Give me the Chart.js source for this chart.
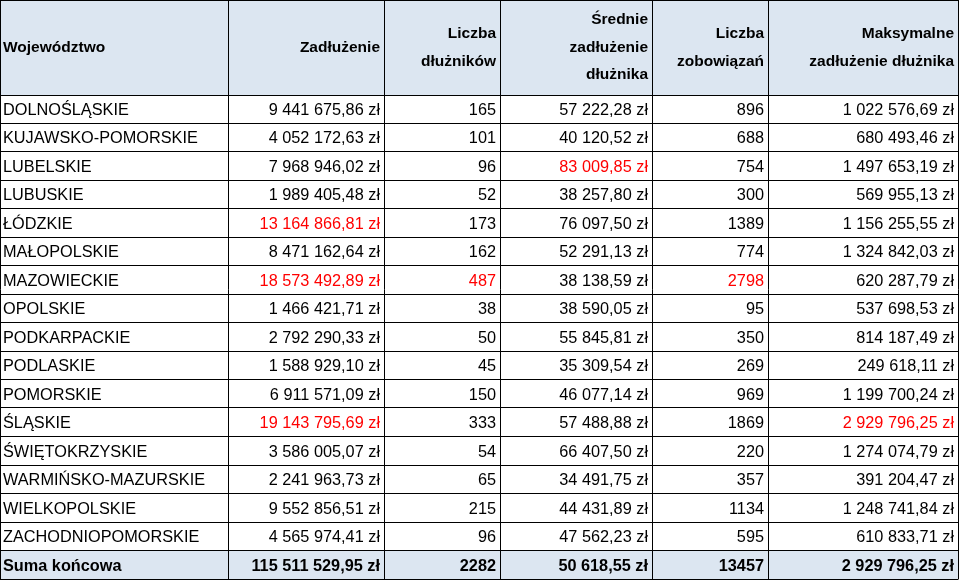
<!DOCTYPE html>
<html><head><meta charset="utf-8">
<script src="https://cdn.jsdelivr.net/npm/chart.js@4/dist/chart.umd.min.js"></script>
<style>html,body{margin:0;padding:0;background:#fff}#w{width:960px;height:582px}</style>
</head><body><div id="w"><canvas id="c"></canvas></div>
<script>
const headers=[["Województwo"],["Zadłużenie"],["Liczba","dłużników"],["Średnie","zadłużenie","dłużnika"],["Liczba","zobowiązań"],["Maksymalne","zadłużenie dłużnika"]];
const regions=["DOLNOŚLĄSKIE","KUJAWSKO-POMORSKIE","LUBELSKIE","LUBUSKIE","ŁÓDZKIE","MAŁOPOLSKIE","MAZOWIECKIE","OPOLSKIE","PODKARPACKIE","PODLASKIE","POMORSKIE","ŚLĄSKIE","ŚWIĘTOKRZYSKIE","WARMIŃSKO-MAZURSKIE","WIELKOPOLSKIE","ZACHODNIOPOMORSKIE"];
const debt=["9 441 675,86 zł","4 052 172,63 zł","7 968 946,02 zł","1 989 405,48 zł","13 164 866,81 zł","8 471 162,64 zł","18 573 492,89 zł","1 466 421,71 zł","2 792 290,33 zł","1 588 929,10 zł","6 911 571,09 zł","19 143 795,69 zł","3 586 005,07 zł","2 241 963,73 zł","9 552 856,51 zł","4 565 974,41 zł"];
const debtors=[165,101,96,52,173,162,487,38,50,45,150,333,54,65,215,96];
const avgDebt=["57 222,28 zł","40 120,52 zł","83 009,85 zł","38 257,80 zł","76 097,50 zł","52 291,13 zł","38 138,59 zł","38 590,05 zł","55 845,81 zł","35 309,54 zł","46 077,14 zł","57 488,88 zł","66 407,50 zł","34 491,75 zł","44 431,89 zł","47 562,23 zł"];
const obligations=[896,688,754,300,1389,774,2798,95,350,269,969,1869,220,357,1134,595];
const maxDebt=["1 022 576,69 zł","680 493,46 zł","1 497 653,19 zł","569 955,13 zł","1 156 255,55 zł","1 324 842,03 zł","620 287,79 zł","537 698,53 zł","814 187,49 zł","249 618,11 zł","1 199 700,24 zł","2 929 796,25 zł","1 274 074,79 zł","391 204,47 zł","1 248 741,84 zł","610 833,71 zł"];
const totals=["Suma końcowa","115 511 529,95 zł","2282","50 618,55 zł","13457","2 929 796,25 zł"];
// highlighted (red) cells: [rowIndex, columnIndex]
const redCells=[[4,1],[6,1],[11,1],[6,2],[2,3],[6,4],[11,5]];

const colEdges=[0,228,384,500,652,768,958];
const headerBottom=95, rowH=28.5;
const tablePlugin={id:'table',afterDraw(ch){
  const c=ch.ctx,X=ch.scales.x,Y=ch.scales.y;
  const px=v=>X.getPixelForValue(v),py=v=>Y.getPixelForValue(v);
  const nRows=regions.length;
  const yEnd=headerBottom+rowH*(nRows+1);
  c.save();
  c.fillStyle='#dce6f1';
  c.fillRect(px(0),py(0),px(958)-px(0),py(headerBottom)-py(0));
  c.fillRect(px(0),py(headerBottom+rowH*nRows),px(958)-px(0),py(yEnd)-py(headerBottom+rowH*nRows));
  c.textBaseline='middle';
  c.font='bold 15.5px "Liberation Sans", Arial';c.fillStyle='#000';
  headers.forEach((h,j)=>{
    const n=h.length, gap=27.5, cy=headerBottom/2;
    h.forEach((t,k)=>{
      const y=cy+(k-(n-1)/2)*gap;
      if(j===0){c.textAlign='left';c.fillText(t,px(colEdges[0]+3),py(y));}
      else{c.textAlign='right';c.fillText(t,px(colEdges[j+1]-4),py(y));}
    });
  });
  const isRed=(i,j)=>redCells.some(r=>r[0]===i&&r[1]===j);
  for(let i=0;i<nRows;i++){
    const vals=[regions[i],debt[i],String(debtors[i]),avgDebt[i],String(obligations[i]),maxDebt[i]];
    const y=headerBottom+rowH*(i+0.5)+1;
    c.font='16.3px "Liberation Sans", Arial';
    vals.forEach((v,j)=>{
      c.fillStyle=isRed(i,j)?'#ff0000':'#000';
      if(j===0){c.textAlign='left';c.fillText(v,px(3),py(y));}
      else{c.textAlign='right';c.fillText(v,px(colEdges[j+1]-4),py(y));}
    });
  }
  c.font='bold 16.3px "Liberation Sans", Arial';c.fillStyle='#000';
  const ty=headerBottom+rowH*(nRows+0.5)+1;
  totals.forEach((v,j)=>{
    if(j===0){c.textAlign='left';c.fillText(v,px(3),py(ty));}
    else{c.textAlign='right';c.fillText(v,px(colEdges[j+1]-4),py(ty));}
  });
  c.strokeStyle='#000';c.lineWidth=1;
  c.beginPath();
  colEdges.forEach(x=>{const xx=Math.round(px(x))+0.5;c.moveTo(xx,py(0));c.lineTo(xx,py(yEnd));});
  [0,headerBottom].forEach(y=>{const yy=Math.round(py(y))+0.5;c.moveTo(px(0),yy);c.lineTo(px(958),yy);});
  for(let i=1;i<=nRows+1;i++){const yy=Math.round(py(headerBottom+rowH*i))-0.5;c.moveTo(px(0),yy);c.lineTo(px(958),yy);}
  c.stroke();
  c.restore();
}};
new Chart(document.getElementById('c'),{type:'scatter',data:{datasets:[]},
 options:{responsive:true,maintainAspectRatio:false,animation:false,layout:{padding:0},
  plugins:{legend:{display:false},tooltip:{enabled:false}},
  scales:{x:{type:'linear',min:0,max:960,display:false},y:{type:'linear',min:0,max:582,reverse:true,display:false}}},
 plugins:[tablePlugin]});
</script></body></html>
